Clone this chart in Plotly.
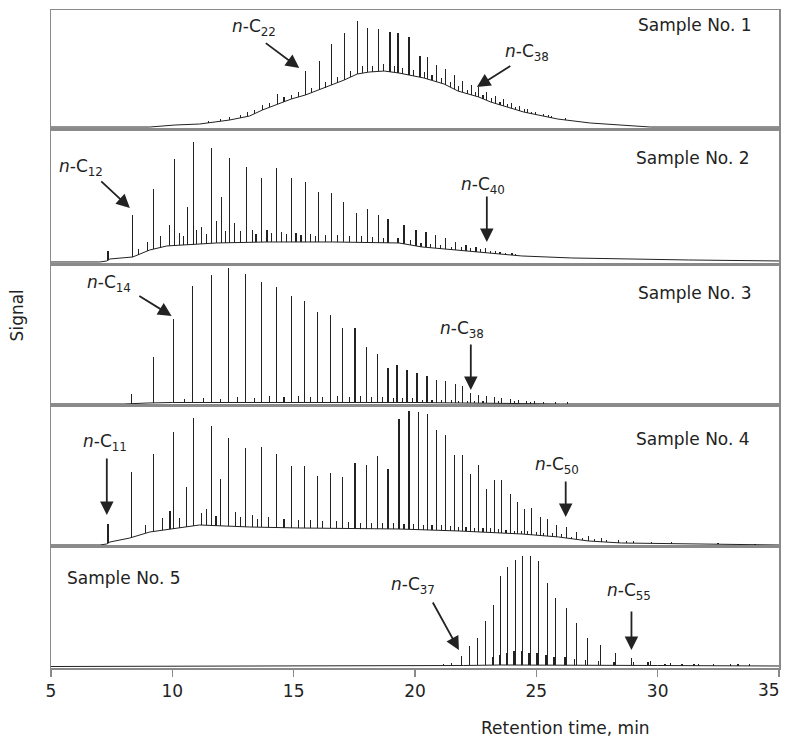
import numpy as np
import plotly.graph_objects as go

FONT = "DejaVu Sans"
INK = "#222222"
AXC = "#8a8a8a"

# ---------------- data (retention time, min ; signal, arbitrary units) ----------------
# Sample No. 1
s1_base_t = [5.0, 9.07, 10.10, 11.12, 12.36, 13.18, 13.71, 14.33, 14.90, 15.48, 16.05, 16.55, 17.08, 17.62,
             18.11, 18.73, 19.34, 20.37, 21.20, 21.77, 22.63, 23.12, 24.48, 25.88, 27.23, 28.59, 29.70, 35.0]
s1_base_y = [2, 2, 4, 5, 9, 13, 19, 25, 30, 34, 39, 44, 49, 55, 57, 58, 56, 51, 45, 38, 32, 27, 17, 10, 6, 4, 2, 2]
s1_peak_t = [12.36, 13.10, 13.71, 14.33, 14.90, 15.48, 16.05, 16.55, 17.08, 17.62, 18.03, 18.48, 18.97, 19.30,
             19.75, 20.21, 20.53, 20.90, 21.27, 21.64, 21.97, 22.34, 22.63, 22.96, 23.33, 23.66, 23.99, 24.32,
             24.65, 24.97, 25.30, 25.63]
s1_peak_y = [12, 17, 24, 35, 34, 58, 68, 85, 96, 108, 101, 100, 97, 96, 92, 73, 72, 64, 60, 54, 48, 44, 42, 37,
             33, 30, 26, 23, 20, 17, 15, 13]
s1_minor_t = [11.5, 12.0, 12.8, 13.4, 14.0, 14.6, 15.2, 15.75, 16.3, 16.8, 17.35, 17.85, 18.25, 18.7, 19.15,
              19.5, 19.95, 20.4, 20.7, 21.1, 21.45, 21.8, 22.15, 22.5, 22.8, 23.15, 23.5, 23.8, 24.15, 24.5,
              24.8, 25.5, 26.2]
s1_minor_h = [2, 2, 3, 4, 4, 5, 5, 5, 6, 6, 6, 7, 6, 7, 6, 6, 6, 6, 5, 5, 5, 5, 4, 4, 4, 4, 3, 3, 3, 3, 2, 2, 2]

# Sample No. 2
s2_base_t = [5.0, 7.01, 7.30, 7.43, 8.37, 9.07, 9.77, 10.59, 11.82, 13.88, 16.59, 19.34, 20.29, 21.68, 23.04,
             24.40, 26.45, 28.51, 31.26, 35.0]
s2_base_y = [3, 3, 4, 6, 8, 15, 19, 20, 22, 23, 23, 22, 18, 15, 12, 9, 7, 6, 5, 4]
s2_peak_t = [7.35, 8.37, 9.23, 10.10, 10.63, 10.88, 11.62, 12.03, 12.36, 13.06, 13.67, 14.29, 14.90, 15.48,
             16.01, 16.55, 17.04, 17.58, 18.03, 18.48, 18.89, 19.55, 20.04, 20.45, 20.86, 21.27, 21.68, 22.10,
             22.51, 22.92, 23.33, 23.74, 24.15]
s2_peak_y = [14, 50, 76, 106, 58, 123, 117, 68, 107, 98, 87, 97, 87, 83, 73, 72, 63, 52, 56, 50, 46, 40, 35,
             33, 30, 27, 23, 20, 18, 17, 14, 12, 11]
s2_minor_t = [8.6, 8.99, 9.5, 9.89, 10.3, 10.45, 11.0, 11.2, 11.4, 11.82, 12.2, 12.55, 12.8, 13.3, 13.45, 13.9,
              14.1, 14.5, 14.7, 15.1, 15.3, 15.7, 15.9, 16.3, 16.8, 17.3, 17.8, 18.25, 18.7, 19.3, 19.8, 20.25,
              20.65, 21.05, 21.5, 21.9, 22.3, 22.7, 23.1, 23.5, 24.0]
s2_minor_h = [6, 9, 12, 21, 12, 9, 14, 17, 10, 22, 12, 20, 12, 12, 8, 12, 9, 10, 8, 9, 7, 8, 6, 7, 7, 6, 6, 6,
              5, 5, 5, 4, 4, 4, 3, 3, 3, 3, 2, 2, 2]

# Sample No. 3
s3_base_t = [5.0, 8.0, 9.0, 10.0, 20.0, 23.0, 26.0, 35.0]
s3_base_y = [2, 2, 3, 3.5, 3.5, 3, 2, 2]
s3_peak_t = [8.33, 9.23, 10.06, 10.84, 11.62, 12.32, 13.01, 13.67, 14.29, 14.90, 15.44, 15.97, 16.51, 17.00,
             17.53, 17.99, 18.44, 18.89, 19.26, 19.67, 20.08, 20.49, 20.90, 21.27, 21.68, 21.97, 22.30, 22.63,
             22.96, 23.29, 23.58, 23.95, 24.27, 24.60, 24.93]
s3_peak_y = [12, 49, 87, 120, 131, 138, 132, 124, 119, 110, 105, 94, 91, 78, 78, 59, 52, 38, 41, 36, 33, 30,
             26, 25, 22, 20, 13, 11, 10, 9, 8, 7, 6, 5, 4.5]
s3_minor_t = [10.5, 11.3, 12.0, 12.7, 13.4, 14.0, 14.6, 15.2, 15.7, 16.2, 16.8, 17.3, 17.75, 18.2, 18.65, 19.1,
              19.5, 19.9, 20.3, 20.7, 21.1, 21.5, 21.8, 22.15, 22.45, 22.8, 23.45, 24.1, 24.75, 25.3, 25.8, 26.3]
s3_minor_h = [3, 4, 3, 5, 4, 6, 5, 6, 5, 5, 6, 5, 6, 5, 5, 4, 4, 4, 3, 3, 3, 3, 2, 2, 2, 2, 2, 2, 2, 2, 2, 2]

# Sample No. 4
s4_base_t = [5.0, 7.01, 7.30, 7.43, 8.25, 9.07, 11.12, 13.18, 15.23, 19.34, 21.81, 24.40, 25.92, 27.15, 28.51,
             31.26, 35.0]
s4_base_y = [2, 2, 3, 5, 9, 15, 22, 20, 19, 18, 16, 13, 10, 6, 4, 3, 2]
s4_peak_t = [7.35, 8.33, 9.23, 10.06, 10.59, 10.88, 11.62, 11.99, 12.32, 13.01, 13.67, 14.29, 14.90, 15.44,
             15.97, 16.51, 17.00, 17.53, 17.99, 18.44, 18.89, 19.34, 19.75, 20.16, 20.53, 20.90, 21.27, 21.64,
             21.97, 22.30, 22.63, 22.96, 23.29, 23.58, 23.95, 24.23, 24.52, 24.81, 25.18, 25.47, 25.84, 26.25,
             26.66, 27.15, 27.69, 28.38, 29.00, 29.74, 30.56, 32.49, 34.01]
s4_peak_y = [23, 75, 93, 115, 60, 129, 121, 68, 109, 99, 100, 93, 81, 81, 71, 74, 70, 84, 82, 91, 78, 128, 136,
             135, 133, 117, 112, 92, 92, 73, 82, 58, 67, 67, 53, 45, 38, 39, 30, 28, 22, 20, 15, 11, 9, 7, 6,
             5, 5, 4, 3]
s4_minor_t = [8.9, 9.6, 9.9, 10.3, 11.2, 11.4, 11.8, 12.6, 12.8, 13.3, 13.5, 13.95, 14.6, 15.2, 15.7, 16.2,
              16.75, 17.25, 17.75, 18.2, 18.65, 19.1, 19.55, 19.95, 20.35, 20.7, 21.1, 21.45, 21.8, 22.1, 22.45,
              22.8, 23.1, 23.45, 23.75, 24.1, 24.4, 24.65, 25.0, 25.3, 25.65, 26.05, 26.45, 26.9, 27.4, 27.9,
              28.7]
s4_minor_h = [8, 12, 18, 10, 12, 16, 10, 14, 10, 12, 8, 10, 9, 8, 8, 7, 7, 6, 6, 6, 6, 6, 5, 5, 5, 5, 5, 5, 4,
              4, 4, 4, 4, 4, 3, 3, 3, 3, 3, 3, 3, 3, 2, 2, 2, 2, 2]

# Sample No. 5
s5_base_t = [5.0, 20.0, 22.0, 23.5, 27.0, 30.0, 35.0]
s5_base_y = [1.5, 2, 2.5, 3, 3, 2.5, 2]
s5_peak_t = [21.19, 21.52, 21.93, 22.26, 22.59, 22.92, 23.25, 23.53, 23.82, 24.15, 24.44, 24.77, 25.10, 25.47,
             25.80, 26.25, 26.66, 27.11, 27.64, 28.26, 28.92, 29.70, 30.52, 31.67, 33.31]
s5_peak_y = [4, 5, 12, 22, 30, 47, 63, 92, 101, 108, 112, 112, 107, 85, 70, 60, 45, 30, 23, 15, 10, 7, 5, 4, 4]
s5_minor_t = [23.18, 23.47, 23.76, 24.08, 24.38, 24.70, 25.03, 25.40, 25.73, 26.18, 26.58, 27.03, 27.55, 28.2,
              29.0, 29.6, 30.3, 31.0, 31.5, 32.3, 33.0, 33.8]
s5_minor_h = [8, 10, 12, 14, 14, 12, 12, 10, 8, 8, 6, 5, 4, 3, 3, 3, 2, 2, 2, 2, 2, 2]

samples = [
    (s1_base_t, s1_base_y, s1_peak_t, s1_peak_y, s1_minor_t, s1_minor_h),
    (s2_base_t, s2_base_y, s2_peak_t, s2_peak_y, s2_minor_t, s2_minor_h),
    (s3_base_t, s3_base_y, s3_peak_t, s3_peak_y, s3_minor_t, s3_minor_h),
    (s4_base_t, s4_base_y, s4_peak_t, s4_peak_y, s4_minor_t, s4_minor_h),
    (s5_base_t, s5_base_y, s5_peak_t, s5_peak_y, s5_minor_t, s5_minor_h),
]
sample_names = ["Sample No. 1", "Sample No. 2", "Sample No. 3", "Sample No. 4", "Sample No. 5"]
panel_ymax = [119, 136, 141, 141, 121]
x_ticks = [5, 10, 15, 20, 25, 30, 35]
x_tick_text = ["5", "10", "15", "20", "25", "30", ""]   # "35" is drawn as an edge-anchored label
last_tick_text = "35"

# label: (panel, text_t, text_y, tail_t, tail_y, head_t, head_y, carbon)
labels = [
    (0, 13.38, 102, 13.79, 87, 15.23, 61, "22"),
    (0, 24.61, 77, 23.99, 64, 22.55, 42, "38"),
    (1, 6.23, 98, 7.01, 85, 8.25, 57, "12"),
    (1, 22.80, 80, 22.96, 70, 22.96, 23, "40"),
    (2, 7.38, 122, 8.58, 111, 9.97, 90, "14"),
    (2, 21.93, 76, 22.30, 63, 22.30, 16, "38"),
    (3, 7.22, 104, 7.30, 90, 7.30, 32, "11"),
    (3, 25.84, 81, 26.21, 67, 26.21, 30, "50"),
    (4, 19.92, 82, 20.70, 67, 21.81, 18, "37"),
    (4, 28.80, 76, 28.92, 58, 28.92, 18, "55"),
]
sample_label_pos = [(31.55, 104), (31.47, 107), (31.55, 113), (31.47, 108), (8.0, 90)]

# ---------------- figure ----------------
domains = [(0.8191, 1.0), (0.6125, 0.8191), (0.3982, 0.6125), (0.1839, 0.3982), (0.0, 0.1839)]

fig = go.Figure()
for i, (bt, by, pt, py, mt, mh) in enumerate(samples):
    xa = "x" if i == 0 else f"x{i+1}"
    ya = "y" if i == 0 else f"y{i+1}"
    pbase = np.interp(pt, bt, by)
    mbase = np.interp(mt, bt, by)
    heights = np.concatenate([np.maximum(np.array(py) - pbase, 0.8), np.array(mh, dtype=float)])
    bases = np.concatenate([pbase, mbase])
    xs = np.concatenate([np.array(pt, dtype=float), np.array(mt, dtype=float)])
    fig.add_trace(go.Bar(x=xs, y=heights, base=bases, width=0.05, marker=dict(color=INK, line=dict(width=0)),
                         xaxis=xa, yaxis=ya, hoverinfo="skip"))
    fig.add_trace(go.Scatter(x=bt, y=by, mode="lines", line=dict(color=INK, width=1),
                             xaxis=xa, yaxis=ya, hoverinfo="skip"))

layout = dict(width=784, height=738, autosize=False, margin=dict(l=51, r=3, t=10, b=70),
              plot_bgcolor="white", paper_bgcolor="white", showlegend=False,
              barmode="overlay", bargap=0, font=dict(family=FONT, size=17, color=INK))
for i in range(5):
    xk = "xaxis" if i == 0 else f"xaxis{i+1}"
    yk = "yaxis" if i == 0 else f"yaxis{i+1}"
    ya = "y" if i == 0 else f"y{i+1}"
    xa = "x" if i == 0 else f"x{i+1}"
    last = (i == 4)
    layout[xk] = dict(domain=[0, 1], anchor=ya, range=[5, 35], showgrid=False, zeroline=False,
                      showline=True, mirror=True, linecolor=AXC, linewidth=1.5,
                      ticks="outside" if last else "", ticklen=7, tickwidth=1.2, tickcolor=AXC,
                      tickmode="array", tickvals=x_ticks, ticktext=x_tick_text, showticklabels=last,
                      tickfont=dict(family=FONT, size=17, color=INK))
    if i > 0:
        layout[xk]["matches"] = "x"
    layout[yk] = dict(domain=list(domains[i]), anchor=xa, range=[0, panel_ymax[i]], showgrid=False,
                      zeroline=False, showline=True, mirror=True, linecolor=AXC, linewidth=1.5,
                      ticks="", showticklabels=False, fixedrange=True)
fig.update_layout(**layout)

ann = []
for (p, tx, ty, at, ay, ht, hy, c) in labels:
    xr = "x" if p == 0 else f"x{p+1}"
    yr = "y" if p == 0 else f"y{p+1}"
    ann.append(dict(x=tx, y=ty, xref=xr, yref=yr, text=f"<i>n</i>-C<sub>{c}</sub>", showarrow=False,
                    font=dict(family=FONT, size=17, color=INK), xanchor="center", yanchor="middle"))
    ann.append(dict(x=ht, y=hy, xref=xr, yref=yr, ax=at, ay=ay, axref=xr, ayref=yr, text="",
                    showarrow=True, arrowhead=2, arrowsize=1.5, arrowwidth=1.8, arrowcolor=INK, standoff=0))
for i, (tx, ty) in enumerate(sample_label_pos):
    xr = "x" if i == 0 else f"x{i+1}"
    yr = "y" if i == 0 else f"y{i+1}"
    ann.append(dict(x=tx, y=ty, xref=xr, yref=yr, text=sample_names[i], showarrow=False,
                    font=dict(family=FONT, size=17, color=INK), xanchor="center", yanchor="middle"))
# last tick label, kept inside the window's right edge
ann.append(dict(x=1.0041, y=-0.0334, xref="paper", yref="paper", text=last_tick_text, showarrow=False,
                font=dict(family=FONT, size=17, color=INK), xanchor="right", yanchor="middle"))
ann.append(dict(x=-0.0466, y=0.536, xref="paper", yref="paper", text="Signal", textangle=-90,
                showarrow=False, font=dict(family=FONT, size=17, color=INK), xanchor="center", yanchor="middle"))
ann.append(dict(x=0.707, y=-0.0912, xref="paper", yref="paper", text="Retention time, min",
                showarrow=False, font=dict(family=FONT, size=17, color=INK), xanchor="center", yanchor="middle"))
fig.update_layout(annotations=ann)

# remove the default 8 px page margin so the figure starts at the window's top-left corner
page_js = ("document.body.style.margin='0';document.body.style.padding='0';"
           "document.documentElement.style.overflow='hidden';")
fig.write_html("out.html", post_script=page_js,
               config={"responsive": False, "displayModeBar": False, "staticPlot": True})
